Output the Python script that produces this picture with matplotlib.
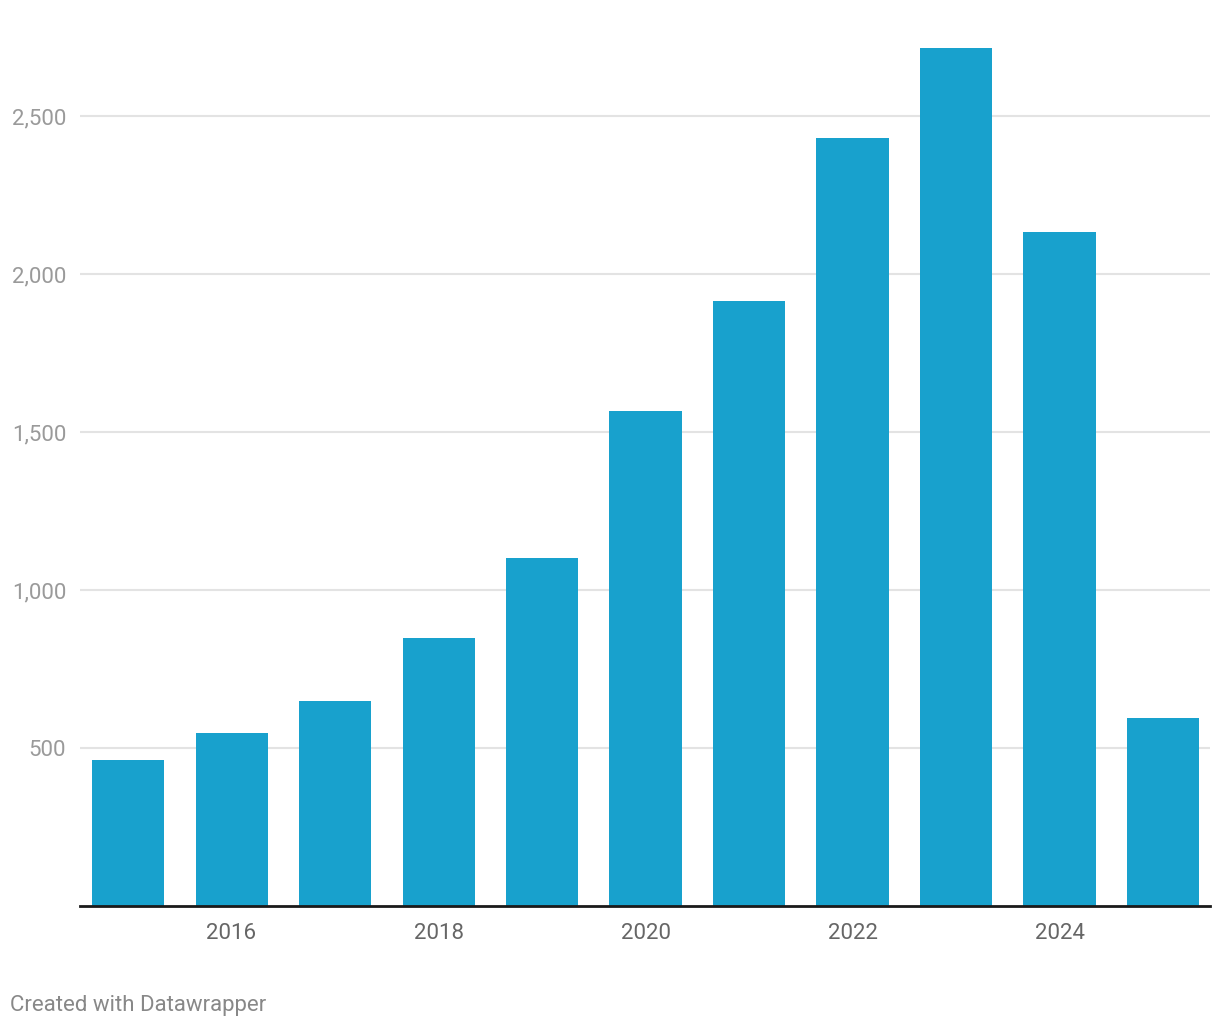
import matplotlib.pyplot as plt
from matplotlib.ticker import FuncFormatter

plt.rcParams['font.family'] = ['Roboto', 'DejaVu Sans']

years = [2015, 2016, 2017, 2018, 2019, 2020, 2021, 2022, 2023, 2024, 2025]
values = [462, 547, 649, 848, 1101, 1566, 1915, 2430, 2715, 2133, 595]
x_ticks = [2016, 2018, 2020, 2022, 2024]
y_ticks = [500, 1000, 1500, 2000, 2500]

W, H = 1220, 1028
fig = plt.figure(figsize=(W / 100, H / 100), dpi=100)
ax = fig.add_axes([80 / W, (H - 906) / H, 1130 / W, 866 / H])

ax.bar(years, values, width=0.696, color='#18a1cd', zorder=2)

ax.set_xlim(2015 - 0.464, 2025 + 0.454)
ax.set_ylim(0, 866 / 0.316)

ax.set_yticks(y_ticks)
ax.yaxis.set_major_formatter(FuncFormatter(lambda v, p: f'{int(v):,}'))
ax.set_xticks(x_ticks)
ax.grid(axis='y', color='#e3e3e3', linewidth=1.5, zorder=0)
ax.tick_params(axis='y', length=0, pad=10, labelsize=16, labelcolor='#9a9a9a')
ax.tick_params(axis='x', length=0, pad=12, labelsize=16, labelcolor='#666666')

for s in ['top', 'right', 'left']:
    ax.spines[s].set_visible(False)
ax.spines['bottom'].set_color('#1a1a1a')
ax.spines['bottom'].set_linewidth(2)
ax.spines['bottom'].set_zorder(3)

fig.text(10 / W, 1 - 1006 / H, 'Created with Datawrapper', fontsize=16,
         color='#888888', va='center', ha='left')

fig.savefig('out.png', dpi=100)
